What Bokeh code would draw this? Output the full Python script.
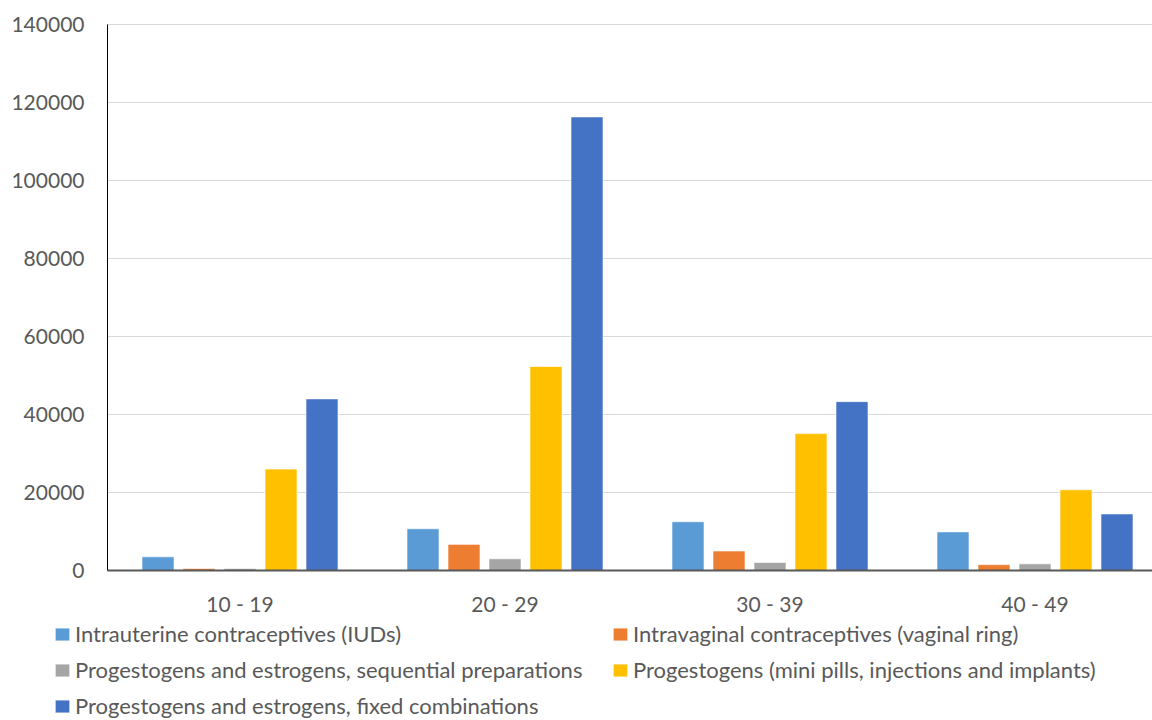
from bokeh.plotting import figure
from bokeh.models import ColumnDataSource, Legend, LegendItem, FixedTicker, Range1d
from bokeh.embed import file_html
from bokeh.resources import INLINE

age_groups = ["10 - 19", "20 - 29", "30 - 39", "40 - 49"]
series_names = [
    "Intrauterine contraceptives (IUDs)",
    "Intravaginal contraceptives (vaginal ring)",
    "Progestogens and estrogens, sequential preparations",
    "Progestogens (mini pills, injections and implants)",
    "Progestogens and estrogens, fixed combinations",
]
iud = [3500, 10700, 12500, 9900]
vaginal_ring = [500, 6700, 5000, 1500]
sequential = [500, 3000, 2050, 1700]
progestogens = [26000, 52300, 35100, 20700]
fixed_combinations = [44000, 116300, 43300, 14500]
y_ticks = [0, 20000, 40000, 60000, 80000, 100000, 120000, 140000]
colors = ["#5B9BD5", "#ED7D31", "#A5A5A5", "#FFC000", "#4472C4"]

FONT = "Lato"
TXT = "#595959"

# layout geometry (pixels)
W, H = 1152, 720
left_px, top_px, bottom_px = 107, 24, 150
cat_px = 265.0
y_max = 140000
px_per_y = (H - top_px - bottom_px) / y_max
x_lo = -left_px / cat_px
x_hi = (W - left_px) / cat_px
y_lo = -bottom_px / px_per_y
y_hi = y_max + top_px / px_per_y

p = figure(width=W, height=H, output_backend="svg", toolbar_location=None,
           x_range=Range1d(x_lo, x_hi), y_range=Range1d(y_lo, y_hi),
           min_border=0, min_border_left=0, min_border_right=0,
           min_border_top=0, min_border_bottom=0)

all_series = [iud, vaginal_ring, sequential, progestogens, fixed_combinations]
pitch = 41 / cat_px
bw = 32 / cat_px
items = []
for k, (vals, name, col) in enumerate(zip(all_series, series_names, colors)):
    xs = [i + 0.5 + (k - 2) * pitch for i in range(len(age_groups))]
    src = ColumnDataSource(dict(x=xs, top=vals))
    r = p.vbar(x="x", top="top", width=bw, source=src, fill_color=col,
               line_color="white", line_alpha=0.6, line_width=1)
    items.append(LegendItem(label=name, renderers=[r]))

p.xaxis.ticker = FixedTicker(ticks=[i + 0.5 for i in range(len(age_groups))])
p.xaxis.major_label_overrides = {i + 0.5: g for i, g in enumerate(age_groups)}
p.yaxis.ticker = FixedTicker(ticks=y_ticks)
p.yaxis.formatter.use_scientific = False

for ax in (p.xaxis[0], p.yaxis[0]):
    ax.major_label_text_font = FONT
    ax.major_label_text_font_size = "21px"
    ax.major_label_text_color = TXT
    ax.major_tick_line_color = None
    ax.minor_tick_line_color = None
    ax.fixed_location = 0
p.xaxis.axis_line_color = "#595959"
p.xaxis.axis_line_width = 2
p.xaxis.bounds = (0, x_hi)
p.yaxis.axis_line_color = "#000000"
p.yaxis.axis_line_width = 1
p.yaxis.bounds = (0, y_max)
p.yaxis.major_label_standoff = 17
p.xaxis.major_label_standoff = 14
p.xgrid.grid_line_color = None
p.ygrid.grid_line_color = "#D9D9D9"
p.ygrid.grid_line_width = 1
try:
    p.ygrid[0].cross_bounds = (0, x_hi)
except Exception:
    p.ygrid.grid_line_color = None
    p.segment(x0=[0] * len(y_ticks[1:]), x1=[x_hi] * len(y_ticks[1:]),
              y0=y_ticks[1:], y1=y_ticks[1:], line_color="#D9D9D9", line_width=1,
              level="underlay")
p.outline_line_color = None

legend = Legend(items=items, orientation="horizontal", ncols=2,
                label_text_font=FONT, label_text_font_size="22px", label_text_color=TXT,
                glyph_width=18, glyph_height=16, label_standoff=4, spacing=9,
                label_height=24, label_width=527, padding=0, margin=0,
                border_line_color=None, background_fill_alpha=0,
                location=(53, 1))
p.add_layout(legend, "center")

open("out.html", "w").write(file_html(p, INLINE))
